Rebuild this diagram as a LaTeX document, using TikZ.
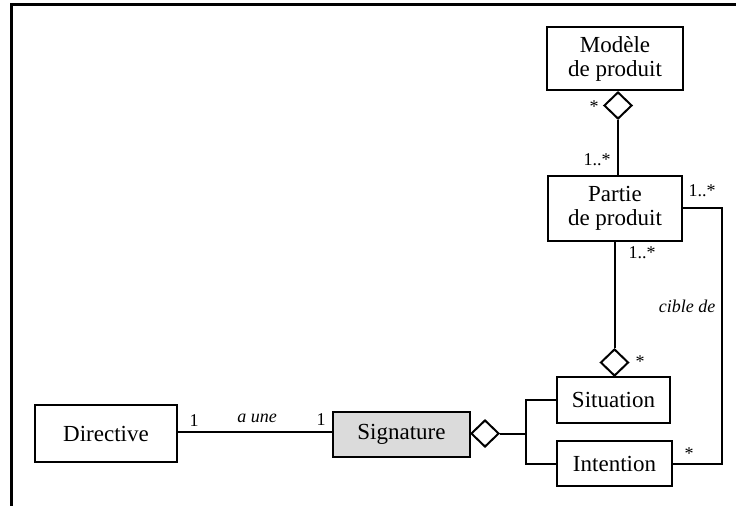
\documentclass[tikz,border=0pt]{standalone}
\usepackage{fontspec}
\setmainfont{Liberation Serif}
\usetikzlibrary{shapes.geometric}
\begin{document}
\begin{tikzpicture}[x=1pt,y=-1pt,
  classbox/.style={draw,line width=2pt,inner sep=0pt,align=center,
    font=\fontsize{23}{24}\selectfont},
  agg/.style={draw,line width=2pt,diamond,fill=white,inner sep=0pt,
    minimum width=28pt,minimum height=27pt},
  conn/.style={line width=2pt},
  mult/.style={inner sep=0pt,font=\fontsize{18}{20}\selectfont},
  role/.style={inner sep=0pt,font=\fontsize{18}{20}\selectfont\itshape}]
\useasboundingbox (0,0) rectangle (736,506);

% frame
\draw[line width=3pt] (736,4) -- (11,4) -- (11,506);

% classes
\node[classbox,minimum width=136pt,minimum height=63pt] (modele) at (615,58.5) {Modèle\\de produit};
\node[classbox,minimum width=134pt,minimum height=65pt] (partie) at (615,208.5) {Partie\\de produit};
\node[classbox,minimum width=113pt,minimum height=46pt] (situation) at (613.5,400) {Situation};
\node[classbox,minimum width=115pt,minimum height=45pt] (intention) at (614.5,463.5) {Intention};
\node[classbox,fill=black!14,minimum width=137pt,minimum height=45pt] (signature) at (401.5,434.5) {Signature};
\node[classbox,minimum width=142pt,minimum height=57pt] (directive) at (106,433.5) {Directive};

% aggregation diamonds
\node[agg,anchor=north] (aggM) at (618,91) {};
\node[agg,anchor=south] (aggS) at (614.5,377) {};
\node[agg,anchor=west] (aggG) at (470,433.5) {};

% connectors
\coordinate (br) at (526,433.5);
\coordinate (rt) at (722,208);
\draw[conn] (aggM.south) -- (aggM.south |- partie.north);
\draw[conn] (aggS.north) -- (aggS.north |- partie.south);
\draw[conn] (directive.east |- 0,432) -- (signature.west |- 0,432);
\draw[conn] (aggG.east) -- (br);
\draw[conn] (situation.west) -| (br) |- (intention.west);
\draw[conn] (partie.east |- rt) -- (rt) |- (intention.east);

% multiplicities and role names
\node[mult] (m1) at (594,107) {*};
\node[mult] (m2) at (597,160) {1..*};
\node[mult] (m3) at (702,191) {1..*};
\node[mult] (m4) at (642,253) {1..*};
\node[role] (r1) at (687,306) {cible de};
\node[mult] (m5) at (640,362) {*};
\node[mult] (m6) at (689,454) {*};
\node[mult] (m7) at (194,421) {1};
\node[role] (r2) at (257,418) {a une};
\node[mult] (m8) at (321,420) {1};
\end{tikzpicture}
\end{document}
